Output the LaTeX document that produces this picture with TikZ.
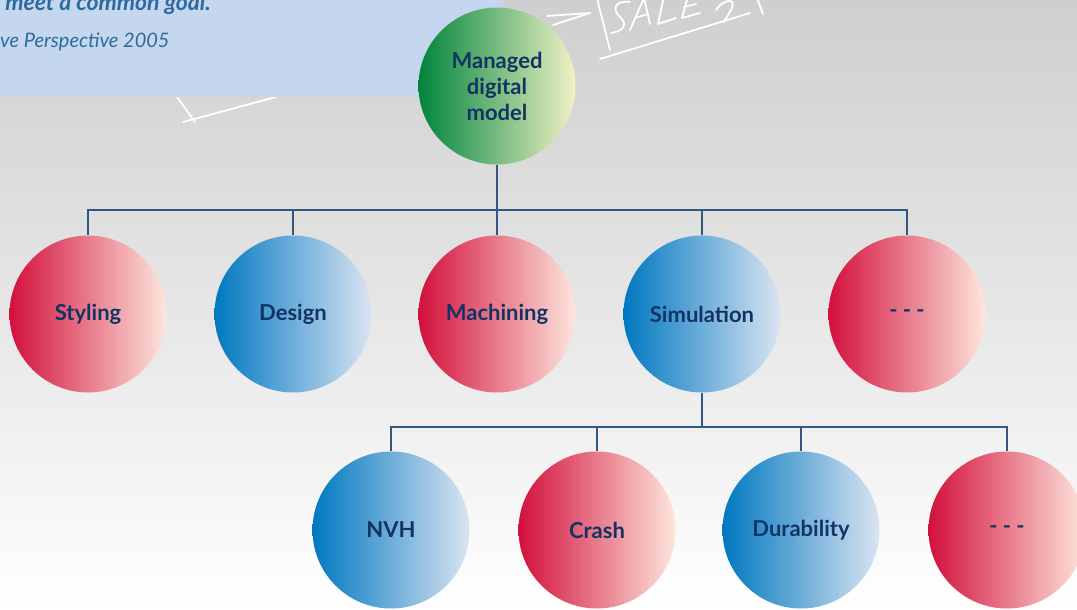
\documentclass[tikz,border=0pt]{standalone}
\usepackage{fontspec}
\setmainfont{Lato}
\definecolor{bgtop}{RGB}{207,207,207}
\definecolor{bgmid}{RGB}{230,230,230}
\definecolor{boxblue}{RGB}{197,215,238}
\definecolor{quotecol}{RGB}{45,106,159}
\definecolor{linecol}{RGB}{50,88,130}
\definecolor{txtcol}{RGB}{18,52,100}
\definecolor{redL}{RGB}{210,16,60}
\definecolor{redR}{RGB}{254,230,220}
\definecolor{blueL}{RGB}{0,120,192}
\definecolor{blueR}{RGB}{218,228,242}
\definecolor{greenL}{RGB}{0,132,61}
\definecolor{greenR}{RGB}{240,242,196}
\tikzset{
  ball/.style={circle, minimum size=157pt, inner sep=0pt, text=txtcol,
    font=\fontsize{22}{26}\selectfont\bfseries, align=center},
  redball/.style={ball, left color=redL, right color=redR},
  blueball/.style={ball, left color=blueL, right color=blueR},
  greenball/.style={ball, left color=greenL, right color=greenR},
  conn/.style={draw=linecol, line width=1.3pt},
  chalk/.style={draw=white, line width=1.8pt, line cap=round, line join=round}
}
\begin{document}
\begin{tikzpicture}[x=1pt,y=-1pt]
\useasboundingbox (0,0) rectangle (1077,610);
\clip (0,0) rectangle (1077,610);
% background
\fill[top color=bgtop, bottom color=white, middle color=bgmid, shading angle=0] (0,0) rectangle (1077,610);
% chalk sketch
\draw[chalk] (547,16) -- (590,13);
\draw[chalk] (553,25) -- (590,13);
\draw[chalk] (597,-2) -- (610,50);
\draw[chalk] (600,59) -- (750,13);
\draw[chalk] (630,2) .. controls (614,0) and (612,10) .. (620,17) .. controls (628,24) and (624,31) .. (611,33);
\draw[chalk] (630,30) -- (644,-2) -- (650,24);
\draw[chalk] (635,18) -- (648,14);
\draw[chalk] (664,-4) -- (658,24) -- (676,18);
\draw[chalk] (688,-4) -- (682,18) -- (700,13);
\draw[chalk] (684,7) -- (696,4);
\draw[chalk] (716,10) .. controls (722,0) and (738,-4) .. (731,10) -- (724,22);
\draw[chalk] (757,-2) -- (763,14);
\draw[chalk] (177,97) -- (195,122);
\draw[chalk] (183,122) -- (276,97);
% quote box
\fill[boxblue] (0,0) rectangle (503,97);
\node[anchor=base west, text=quotecol, font=\fontsize{23}{23}\selectfont\bfseries\itshape, inner sep=0pt] (q1) at (-8,11) {r meet a common goal.};
\node[anchor=base west, text=quotecol, font=\fontsize{20}{20}\selectfont\itshape, inner sep=0pt] (q2) at (0,48) {ve Perspective 2005};
% nodes
\node[greenball] (root) at (497,86) {Managed\\digital\\model};
\node[redball]  (sty) at (88,314)  {Styling};
\node[blueball] (des) at (293,314) {Design};
\node[redball]  (mac) at (497,314) {Machining};
\node[blueball] (sim) at (702,314) {Simulation};
\node[redball]  (dt1) at (907,314) {- - -};
\node[blueball] (nvh) at (391,530) {NVH};
\node[redball]  (cra) at (597,530) {Crash};
\node[blueball] (dur) at (801,530) {Durability};
\node[redball]  (dt2) at (1007,530) {- - -};
% connectors
\coordinate (h1) at (497,210);
\coordinate (h2) at (702,427);
\draw[conn] (root.south) -- (h1);
\draw[conn] (sty.north) |- (h1) -| (dt1.north);
\draw[conn] (des.north) -- (des.north |- h1);
\draw[conn] (mac.north) -- (h1);
\draw[conn] (sim.north) -- (sim.north |- h1);
\draw[conn] (sim.south) -- (h2);
\draw[conn] (nvh.north) |- (h2) -| (dt2.north);
\draw[conn] (cra.north) -- (cra.north |- h2);
\draw[conn] (dur.north) -- (dur.north |- h2);
\end{tikzpicture}
\end{document}
